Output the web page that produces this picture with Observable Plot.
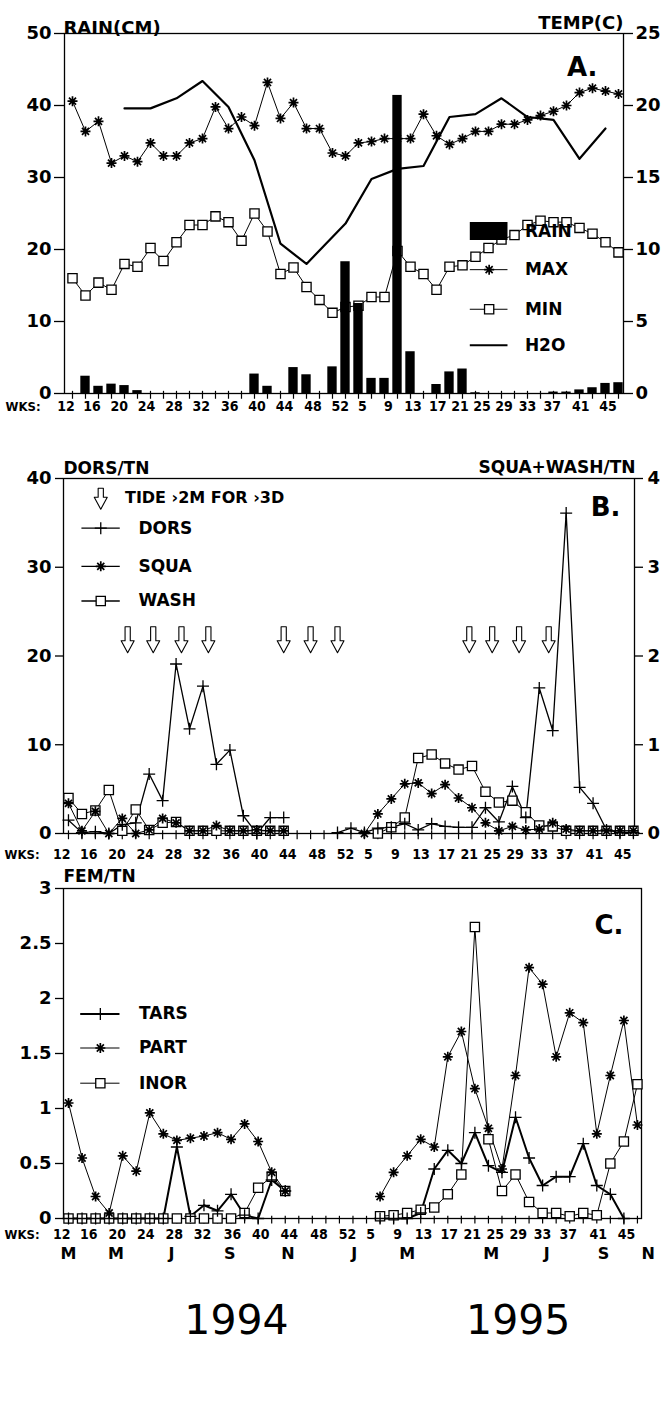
<!DOCTYPE html>
<html><head><meta charset="utf-8">
<script src="https://cdn.jsdelivr.net/npm/d3@7"></script>
<script src="https://cdn.jsdelivr.net/npm/@observablehq/plot@0.6"></script>
<style>
body{margin:0;background:#fff;}
#wrap{width:669px;background:#fff;}
#wrap svg{overflow:visible;display:block;}
</style></head><body><div id="wrap"></div>
<script>
// ---------- shared x (biweekly sample index: 0 = 1994 wk 12 ... 42 = 1995 wk 45) ----------
const sampleIdx = [0,1,2,3,4,5,6,7,8,9,10,11,12,13,14,15,16,17,18,19,20,21,22,23,24,25,26,27,28,29,30,31,32,33,34,35,36,37,38,39,40,41,42];
const wkLabels = ["12","16","20","24","28","32","36","40","44","48","52","5","9","13","17","21","25","29","33","37","41","45"];
const wkLabelPos = [-0.5,1.5,3.6,5.7,7.8,9.9,12.1,14.2,16.3,18.5,20.6,22.3,24.3,26.2,28.1,29.8,31.5,33.2,35,36.9,39.1,41.2];
const monthLabels = ["M","M","J","S","N","J","M","M","J","S","N"];
const monthPos = [0,3.5,7.6,11.9,16.2,21.1,25,31.2,35.3,39.5,42.8];
const yearLabels = ["1994","1995"];
const yearPos = [12.4,33.2];

// ---------- Panel A ----------
const rainCm = [0,2.4,1.0,1.3,1.1,0.4,0,0,0,0,0,0,0,0,2.7,1.0,0,3.6,2.6,0,3.7,
  18.3,12.5,2.1,2.1,41.4,5.8,0,1.25,3.0,3.4,0.1,0,0,0,0,0,0.2,0.2,0.5,0.8,1.4,1.5];
const maxTemp = [20.3,18.2,18.9,16.0,16.5,16.1,17.4,16.5,16.5,17.4,17.7,19.9,18.4,19.2,18.6,21.6,19.1,20.2,18.4,18.4,16.7,
  16.5,17.4,17.5,17.7,17.7,17.7,19.4,17.9,17.3,17.7,18.2,18.2,18.7,18.7,19.0,19.3,19.6,20.0,20.9,21.2,21.0,20.8];
const minTemp = [8.0,6.8,7.7,7.2,9.0,8.8,10.1,9.2,10.5,11.7,11.7,12.3,11.9,10.6,12.5,11.25,8.3,8.75,7.4,6.5,5.6,
  6.0,6.1,6.7,6.7,9.9,8.8,8.3,7.2,8.8,8.9,9.5,10.1,10.7,11.0,11.7,12.0,11.9,11.9,11.5,11.1,10.5,9.8];
const h2oIdx = [4,6,8,10,12,14,16,18,21,23,25,27,29,31,33,35,37,39,41];
const h2oTemp = [19.8,19.8,20.5,21.7,19.9,16.2,10.4,9.0,11.8,14.9,15.6,15.8,19.2,19.4,20.5,19.2,19.0,16.3,18.4];

// ---------- Panel B ----------
const dors = [1.5,0.1,0.2,0.0,1.0,1.2,6.7,3.7,19.1,11.8,16.6,7.8,9.4,2.0,0,1.8,1.8,null,null,null,
  0.1,0.6,0.1,0.6,0.7,1.1,0.4,1.1,0.8,0.7,0.7,2.9,1.3,5.3,1.8,16.4,11.6,36.1,5.2,3.4,0.4,0.1,0.1];
const squa = [0.34,0.03,0.25,0,0.17,0.0,0.04,0.17,0.12,0.03,0.03,0.09,0.03,0.03,0.04,0.03,0.03,null,null,null,null,null,
  0,0.22,0.39,0.56,0.57,0.45,0.55,0.40,0.29,0.12,0.03,0.08,0.04,0.05,0.12,0.05,0.03,0.03,0.03,0.03,0.03];
const wash = [0.40,0.22,0.26,0.49,0.03,0.27,0.04,0.12,0.13,0.03,0.03,0.03,0.03,0.03,0.03,0.03,0.03,null,null,null,null,null,null,
  0.0,0.07,0.18,0.85,0.89,0.79,0.72,0.76,0.47,0.35,0.37,0.24,0.09,0.08,0.03,0.03,0.03,0.03,0.03,0.03];
const tideIdx = [4.4,6.3,8.4,10.4,16.0,18.0,20.0,29.8,31.5,33.5,35.7];

// ---------- Panel C ----------
const tars = [0,0,0,0,0,0,0,0,0.65,0.02,0.12,0.07,0.22,0.03,0,0.35,0.25,null,null,null,null,null,null,
  0,0,0,0.05,0.45,0.62,0.5,0.78,0.48,0.42,0.92,0.55,0.3,0.38,0.38,0.68,0.3,0.22,0,null];
const part = [1.05,0.55,0.2,0.05,0.57,0.43,0.96,0.77,0.71,0.73,0.75,0.78,0.72,0.86,0.7,0.42,0.25,null,null,null,null,null,null,
  0.2,0.42,0.57,0.72,0.65,1.47,1.7,1.18,0.82,0.45,1.3,2.28,2.13,1.47,1.87,1.78,0.77,1.3,1.8,0.85];
const inor = [0,0,0,0,0,0,0,0,0,0,0,0,0,0.05,0.28,0.38,0.25,null,null,null,null,null,null,
  0.02,0.03,0.05,0.08,0.1,0.22,0.4,2.65,0.72,0.25,0.4,0.15,0.05,0.05,0.02,0.05,0.03,0.5,0.7,1.22];

// ---------- helpers ----------
const FONT = "'DejaVu Sans', 'Liberation Sans', sans-serif";
const NARROW = "'DejaVu Sans Condensed', 'Liberation Sans Narrow', 'DejaVu Sans', sans-serif";
const star8 = {draw(ctx, size){const r = Math.sqrt(size/Math.PI);
  for (const a of [0,45,90,135]){const t=a*Math.PI/180, c=Math.cos(t)*r, s=Math.sin(t)*r; ctx.moveTo(c,s); ctx.lineTo(-c,-s);} }};
const plusSym = {draw(ctx, size){const r = Math.sqrt(size/Math.PI);
  ctx.moveTo(-r,0); ctx.lineTo(r,0); ctx.moveTo(0,-r); ctx.lineTo(0,r);} };
const openArrow = {draw(ctx, l){const sw=2.6, hw=6.5, hl=12;
  ctx.moveTo(-sw,0); ctx.lineTo(-sw,-(l-hl)); ctx.lineTo(-hw,-(l-hl)); ctx.lineTo(0,-l);
  ctx.lineTo(hw,-(l-hl)); ctx.lineTo(sw,-(l-hl)); ctx.lineTo(sw,0); ctx.closePath();}};

const rows = (ys) => sampleIdx.map(i => ({i, v: ys[i]}));
const baseStyle = {fontFamily: FONT, fontWeight: "bold", fontSize: "18px", background: "transparent", overflow: "visible", color: "black"};

function xTicks(tickDown, tickUp){
  return Plot.ruleX(sampleIdx, {x: d => d, y1: tickDown, y2: tickUp, stroke: "black", strokeWidth: 1.2});
}
function xLabels(dy){
  return [
    Plot.text(wkLabels, {x: (d,k) => wkLabelPos[k], text: d => d, frameAnchor: "bottom", dy, fontSize: 14, fontFamily: NARROW, fontWeight: "bold"}),
    Plot.text(["WKS:"], {frameAnchor: "bottom-left", dx: -59, dy, textAnchor: "start", fontSize: 13, fontFamily: NARROW, fontWeight: "bold"})
  ];
}

const wrap = document.getElementById("wrap");

// ================= Panel A =================
const legA = [{k:"RAIN", y:22.5},{k:"MAX", y:17.2},{k:"MIN", y:11.7},{k:"H2O", y:6.7}];
const plotA = Plot.plot({
  width: 669, height: 420,
  marginTop: 33, marginBottom: 27, marginLeft: 64, marginRight: 46,
  style: baseStyle,
  x: {type: "linear", domain: [-0.615, 42.385], axis: null},
  y: {domain: [0, 50], axis: null},
  marks: [
    Plot.frame({stroke: "black", strokeWidth: 1.3}),
    Plot.axisY({ticks: [0,10,20,30,40,50], tickSize: 10, tickPadding: 3, label: null, fontSize: 18, strokeWidth: 1.3}),
    Plot.axisY({anchor: "right", ticks: [0,10,20,30,40,50], tickFormat: d => d/2, tickSize: 9, tickPadding: 3, label: null, fontSize: 18, strokeWidth: 1.3}),
    xTicks(-0.8, 0.3),
    ...xLabels(17),
    Plot.line(h2oIdx.map((i,k) => ({i, v: h2oTemp[k]*2})), {x: "i", y: "v", stroke: "black", strokeWidth: 2.2}),
    Plot.line(rows(maxTemp), {x: "i", y: d => d.v*2, stroke: "black", strokeWidth: 1}),
    Plot.dot(rows(maxTemp), {x: "i", y: d => d.v*2, symbol: star8, r: 5, stroke: "black", strokeWidth: 1.7, fill: "none"}),
    Plot.line(rows(minTemp), {x: "i", y: d => d.v*2, stroke: "black", strokeWidth: 1}),
    Plot.dot(rows(minTemp), {x: "i", y: d => d.v*2, symbol: "square", r: 5.2, stroke: "black", strokeWidth: 1.3, fill: "white"}),
    Plot.rectY(rows(rainCm).filter(d => d.v > 0), {x1: d => d.i - 0.36, x2: d => d.i + 0.36, y: "v", fill: "black"}),
    // legend
    Plot.rect([legA[0]], {x1: 30.6, x2: 33.5, y1: d => d.y - 1.25, y2: d => d.y + 1.25, fill: "black"}),
    Plot.ruleY(legA.slice(1), {y: "y", x1: 30.6, x2: 33.5, stroke: "black", strokeWidth: d => d.k === "H2O" ? 2.2 : 1}),
    Plot.dot([legA[1]], {x: 32.05, y: "y", symbol: star8, r: 5, stroke: "black", strokeWidth: 1.7}),
    Plot.dot([legA[2]], {x: 32.05, y: "y", symbol: "square", r: 5.2, stroke: "black", strokeWidth: 1.3, fill: "white"}),
    Plot.text(legA, {x: 34.8, y: "y", text: "k", textAnchor: "start", fontSize: 17, fontWeight: "bold"}),
    // titles
    Plot.text(["RAIN(CM)"], {frameAnchor: "top-left", dx: -1, dy: -12, textAnchor: "start", fontSize: 18}),
    Plot.text(["TEMP(C)"], {frameAnchor: "top-right", dx: 0, dy: -17, textAnchor: "end", fontSize: 18}),
    Plot.text(["A."], {frameAnchor: "top-right", dx: -26, dy: 24, textAnchor: "end", fontSize: 26})
  ]
});
wrap.appendChild(plotA);

// ================= Panel B =================
const legB = [{k:"DORS", y:34.4},{k:"SQUA", y:30.1},{k:"WASH", y:26.2}];
const plotB = Plot.plot({
  width: 669, height: 442,
  marginTop: 58, marginBottom: 29, marginLeft: 63, marginRight: 35,
  style: baseStyle,
  x: {type: "linear", domain: [-0.37, 42.08], axis: null},
  y: {domain: [0, 40], axis: null},
  marks: [
    Plot.frame({stroke: "black", strokeWidth: 1.3}),
    Plot.axisY({ticks: [0,10,20,30,40], tickSize: 8, tickPadding: 4, label: null, fontSize: 18, strokeWidth: 1.3}),
    Plot.axisY({anchor: "right", ticks: [0,10,20,30,40], tickFormat: d => d/10, tickSize: 8, tickPadding: 5, label: null, fontSize: 18, strokeWidth: 1.3}),
    xTicks(-0.7, 0.3),
    ...xLabels(25),
    Plot.vector(tideIdx, {x: d => d, y: 23.3, length: 26, rotate: 180, anchor: "start", shape: openArrow, stroke: "black", strokeWidth: 1.1, fill: "white"}),
    Plot.line(rows(wash), {x: "i", y: d => d.v == null ? null : d.v*10, stroke: "black", strokeWidth: 1}),
    Plot.line(rows(squa), {x: "i", y: d => d.v == null ? null : d.v*10, stroke: "black", strokeWidth: 1}),
    Plot.line(rows(dors), {x: "i", y: "v", stroke: "black", strokeWidth: 1.3}),
    Plot.dot(rows(wash).filter(d => d.v != null), {x: "i", y: d => d.v*10, symbol: "square", r: 5.2, stroke: "black", strokeWidth: 1.3, fill: "white"}),
    Plot.dot(rows(squa).filter(d => d.v != null), {x: "i", y: d => d.v*10, symbol: star8, r: 5, stroke: "black", strokeWidth: 1.7}),
    Plot.dot(rows(dors).filter(d => d.v != null), {x: "i", y: "v", symbol: plusSym, r: 6, stroke: "black", strokeWidth: 1.3}),
    // legend
    Plot.vector([0], {x: 2.4, y: 38.9, length: 21, rotate: 180, anchor: "start", shape: openArrow, stroke: "black", strokeWidth: 1.1, fill: "white"}),
    Plot.text(["TIDE \u203A2M FOR \u203A3D"], {x: 4.2, y: 37.8, textAnchor: "start", fontSize: 16}),
    Plot.ruleY(legB, {y: "y", x1: 1.0, x2: 3.85, stroke: "black", strokeWidth: 1.3}),
    Plot.dot([legB[0]], {x: 2.4, y: "y", symbol: plusSym, r: 6, stroke: "black", strokeWidth: 1.3}),
    Plot.dot([legB[1]], {x: 2.4, y: "y", symbol: star8, r: 5, stroke: "black", strokeWidth: 1.7}),
    Plot.dot([legB[2]], {x: 2.4, y: "y", symbol: "square", r: 5.2, stroke: "black", strokeWidth: 1.3, fill: "white"}),
    Plot.text(legB, {x: 5.2, y: "y", text: "k", textAnchor: "start", fontSize: 17}),
    Plot.text(["DORS/TN"], {frameAnchor: "top-left", dx: 0, dy: -17, textAnchor: "start", fontSize: 17}),
    Plot.text(["SQUA+WASH/TN"], {frameAnchor: "top-right", dx: 1, dy: -18, textAnchor: "end", fontSize: 17}),
    Plot.text(["B."], {frameAnchor: "top-right", dx: -14, dy: 19, textAnchor: "end", fontSize: 26})
  ]
});
wrap.appendChild(plotB);

// ================= Panel C =================
const legC = [{k:"TARS", y:1.86},{k:"PART", y:1.55},{k:"INOR", y:1.23}];
const plotC = Plot.plot({
  width: 669, height: 540,
  marginTop: 26, marginBottom: 184, marginLeft: 63, marginRight: 28,
  style: baseStyle,
  x: {type: "linear", domain: [-0.37, 42.3], axis: null},
  y: {domain: [0, 3], axis: null},
  marks: [
    Plot.frame({stroke: "black", strokeWidth: 1.3}),
    Plot.axisY({ticks: [0,0.5,1,1.5,2,2.5,3], tickFormat: d => String(d), tickSize: 8, tickPadding: 4, label: null, fontSize: 18, strokeWidth: 1.3}),
    xTicks(-0.05, 0.02),
    ...xLabels(20),
    Plot.text(monthLabels, {x: (d,k) => monthPos[k], text: d => d, frameAnchor: "bottom", dy: 40, fontSize: 16}),
    Plot.text(yearLabels, {x: (d,k) => yearPos[k], text: d => d, frameAnchor: "bottom", dy: 115, fontSize: 41, fontWeight: "normal", letterSpacing: "4px"}),
    Plot.line(rows(inor), {x: "i", y: "v", stroke: "black", strokeWidth: 1}),
    Plot.line(rows(part), {x: "i", y: "v", stroke: "black", strokeWidth: 1}),
    Plot.line(rows(tars), {x: "i", y: "v", stroke: "black", strokeWidth: 2}),
    Plot.dot(rows(inor).filter(d => d.v != null), {x: "i", y: "v", symbol: "square", r: 5.2, stroke: "black", strokeWidth: 1.3, fill: "white"}),
    Plot.dot(rows(part).filter(d => d.v != null), {x: "i", y: "v", symbol: star8, r: 5, stroke: "black", strokeWidth: 1.7}),
    Plot.dot(rows(tars).filter(d => d.v != null), {x: "i", y: "v", symbol: plusSym, r: 6, stroke: "black", strokeWidth: 1.3}),
    // legend
    Plot.ruleY(legC, {y: "y", x1: 0.9, x2: 3.8, stroke: "black", strokeWidth: d => d.k === "TARS" ? 2 : 1}),
    Plot.dot([legC[0]], {x: 2.35, y: "y", symbol: plusSym, r: 6, stroke: "black", strokeWidth: 1.3}),
    Plot.dot([legC[1]], {x: 2.35, y: "y", symbol: star8, r: 5, stroke: "black", strokeWidth: 1.7}),
    Plot.dot([legC[2]], {x: 2.35, y: "y", symbol: "square", r: 5.2, stroke: "black", strokeWidth: 1.3, fill: "white"}),
    Plot.text(legC, {x: 5.2, y: "y", text: "k", textAnchor: "start", fontSize: 17}),
    Plot.text(["FEM/TN"], {frameAnchor: "top-left", dx: 0, dy: -19, textAnchor: "start", fontSize: 17}),
    Plot.text(["C."], {frameAnchor: "top-right", dx: -18, dy: 27, textAnchor: "end", fontSize: 26})
  ]
});
wrap.appendChild(plotC);
</script></body></html>
